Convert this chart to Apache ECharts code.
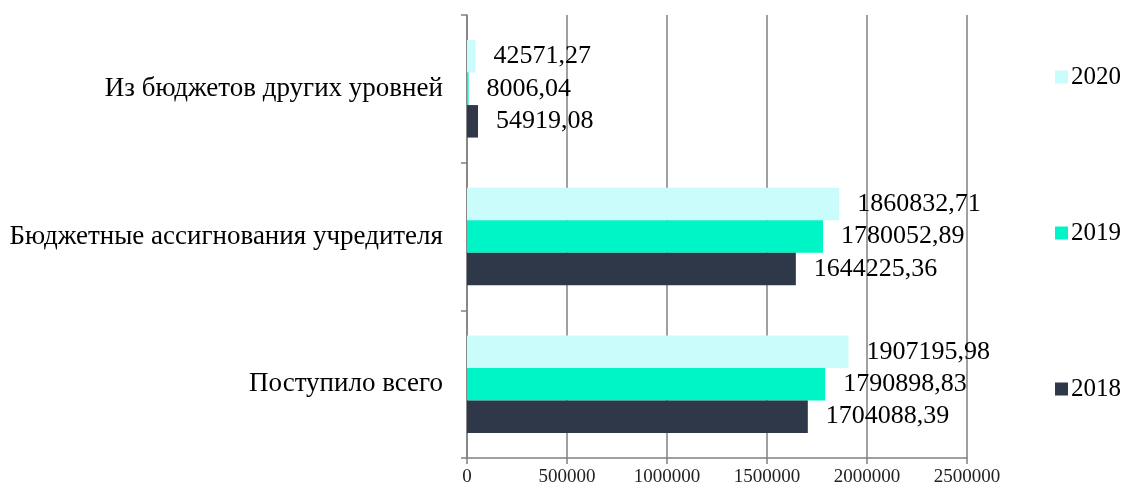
<!DOCTYPE html>
<html>
<head>
<meta charset="utf-8">
<script src="https://cdn.jsdelivr.net/npm/echarts@6/dist/echarts.min.js"></script>
<style>
html,body{margin:0;padding:0;background:#fff;}
#chart{width:1129px;height:487px;}
</style>
</head>
<body>
<div id="chart"></div>
<script>
const categories = ['Поступило всего', 'Бюджетные ассигнования учредителя', 'Из бюджетов других уровней'];
const years = ['2018', '2019', '2020'];
const values2018 = [1704088.39, 1644225.36, 54919.08];
const values2019 = [1790898.83, 1780052.89, 8006.04];
const values2020 = [1907195.98, 1860832.71, 42571.27];
const xTicks = [0, 500000, 1000000, 1500000, 2000000, 2500000];
const colors = {'2018': '#2f3848', '2019': '#00f5c6', '2020': '#c9fcfb'};

const FONT = "'Liberation Serif', 'Times New Roman', serif";
const fmt = v => v.toFixed(2).replace('.', ',');

function mkSeries(name, data) {
  return {
    name: name,
    type: 'bar',
    data: data,
    barGap: '0%',
    barCategoryGap: '34%',
    itemStyle: {color: colors[name]},
    label: {
      show: true,
      position: 'right',
      distance: 18,
      color: '#000',
      fontFamily: FONT,
      fontSize: 26,
      formatter: p => fmt(p.value)
    }
  };
}

const chart = echarts.init(document.getElementById('chart'));
chart.setOption({
  animation: false,
  grid: {left: 467, right: 162, top: 15, bottom: 29, containLabel: false},
  legend: {
    orient: 'vertical',
    right: 3,
    top: 59,
    itemGap: 130,
    itemWidth: 13,
    itemHeight: 13,
    icon: 'rect',
    data: ['2020', '2019', '2018'],
    textStyle: {fontFamily: FONT, fontSize: 25, lineHeight: 26, color: '#000', padding: [0,0,0,-2]}
  },
  xAxis: {
    type: 'value',
    min: 0,
    max: 2500000,
    interval: 500000,
    axisLine: {show: true, lineStyle: {color: '#808080', width: 1.5}},
    axisTick: {show: true, length: 6, lineStyle: {color: '#808080', width: 1.5}},
    splitLine: {show: true, lineStyle: {color: '#808080', width: 1.5}},
    axisLabel: {
      fontFamily: FONT, fontSize: 19, color: '#222', margin: 10,
      formatter: v => xTicks.indexOf(v) >= 0 ? String(v) : ''
    }
  },
  yAxis: {
    type: 'category',
    data: categories,
    axisLine: {show: true, lineStyle: {color: '#808080', width: 1.5}},
    axisTick: {show: true, length: 6, lineStyle: {color: '#808080', width: 1.5}},
    axisLabel: {fontFamily: FONT, fontSize: 27, color: '#000', margin: 24}
  },
  series: [
    mkSeries('2020', values2020),
    mkSeries('2019', values2019),
    mkSeries('2018', values2018)
  ]
});
</script>
</body>
</html>
